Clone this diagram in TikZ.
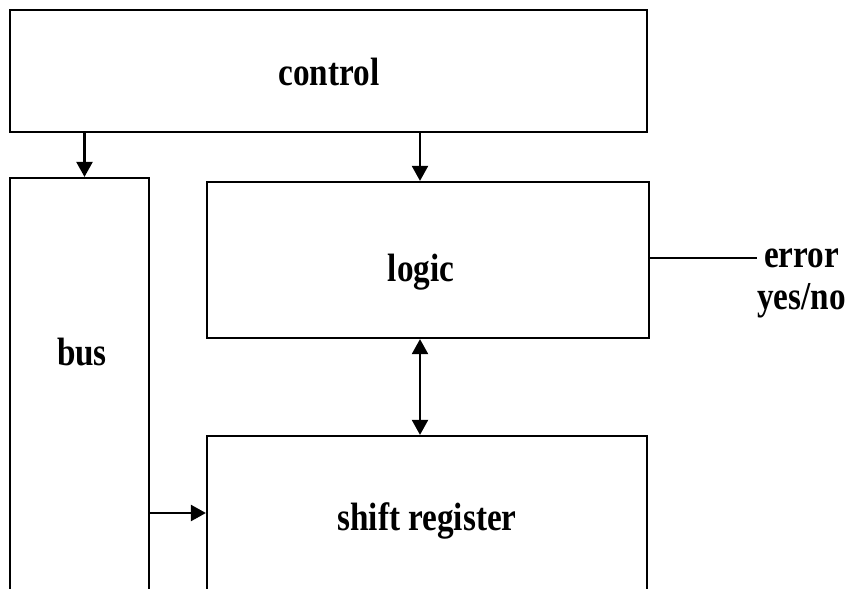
\documentclass[tikz,border=0pt]{standalone}
\usepackage{fontspec}
\setmainfont{Liberation Serif}[FakeStretch=0.84]
\usetikzlibrary{positioning, arrows.meta, calc}

\begin{document}
\begin{tikzpicture}[
  x=0.02cm, y=-0.02cm,
  font=\fontsize{22.5}{24}\selectfont\bfseries,
  blk/.style={draw, line width=1.3pt, fill=white, inner sep=0pt},
  link/.style={-{Triangle[length=0.3cm, width=0.32cm]}, line width=1.3pt},
  dlink/.style={{Triangle[length=0.3cm, width=0.32cm]}-{Triangle[length=0.3cm, width=0.32cm]}, line width=1.3pt},
]
\useasboundingbox (0,0) rectangle (850,589);
\clip (0,0) rectangle (850,589);

\node[blk, minimum width=12.74cm, minimum height=2.44cm] (control) at (328.5,71) {};
\node (controllbl) at (329,72) {control};
\node[blk, minimum width=2.78cm, minimum height=9.24cm] (bus) at (79.5,409) {};
\node (buslbl) at (82,352) {bus};
\node[blk, minimum width=8.84cm, minimum height=3.12cm] (logic) at (428,260) {};
\node (logiclbl) at (421,272) {logic};
\node[blk, minimum width=8.8cm, minimum height=3.36cm] (shift) at (427,520) {};
\node (shiftlbl) at (427,521) {shift register};
\node[anchor=west, inner sep=0pt, align=center] (err) at (757,283) {error\\[0pt]yes/no};

% connectors
\draw[link] ([xshift=0.1cm]bus.north |- control.south) -- ([xshift=0.1cm]bus.north);
\draw[link] ([xshift=-0.16cm]logic.north |- control.south) -- ([xshift=-0.16cm]logic.north);
\draw[dlink] ([xshift=-0.16cm]logic.south) -- ([xshift=-0.14cm]shift.north);
\draw[link] ([yshift=0.14cm]bus.east |- shift.west) -- ([yshift=0.14cm]shift.west);
\draw[line width=1.3pt] ([yshift=0.04cm]logic.east) -- ([yshift=0.04cm]err.west |- logic.east);

\end{tikzpicture}
\end{document}
